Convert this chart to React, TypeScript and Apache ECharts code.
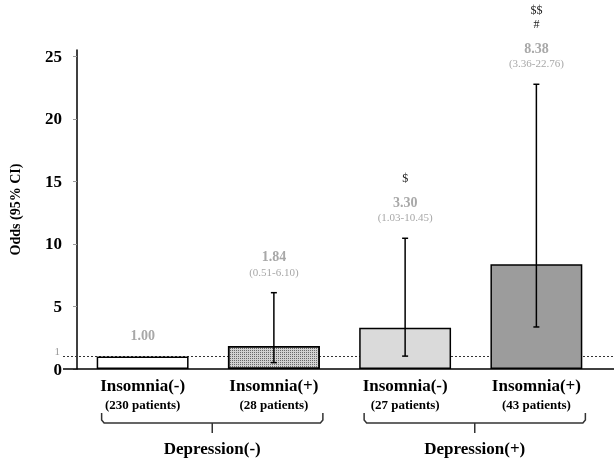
import React, { useEffect, useRef } from 'react';
import * as echarts from 'echarts';

const categories = ['Insomnia(-)', 'Insomnia(+)', 'Insomnia(-)', 'Insomnia(+)'];
const patientCounts = ['(230 patients)', '(28 patients)', '(27 patients)', '(43 patients)'];
const groupLabels = ['Depression(-)', 'Depression(+)'];
const groupMembers = [[0, 1], [2, 3]];
const odds = [1.0, 1.84, 3.3, 8.38];
const ciLow: (number | null)[] = [null, 0.51, 1.03, 3.36];
const ciHigh: (number | null)[] = [null, 6.1, 10.45, 22.76];
const markers: string[][] = [[], [], ['$'], ['$$', '#']];
const yLabelValues = [0, 5, 10, 15, 20, 25];
const yTickValues = [0, 5, 10, 15, 20, 25];
const referenceOdds = 1;
const yMax = 25.5;

const FONT = "'Liberation Serif', 'Times New Roman', serif";
const barFills = ['#ffffff', '#d2d2d2', '#dadada', '#9c9c9c'];
const GRAY = '#a8a8a8';

export default function App() {
  const ref = useRef<HTMLDivElement>(null);
  useEffect(() => {
    const chart = echarts.init(ref.current!, null, { renderer: 'svg' });
    const decal = {
      symbol: 'rect',
      symbolSize: 1,
      color: '#6a6a6a',
      dashArrayX: [1, 1],
      dashArrayY: [1, 1],
      rotation: 0,
    };
    const option: any = {
      animation: false,
      grid: { left: 75, right: 12, top: 50, bottom: 93 },
      xAxis: {
        type: 'category',
        data: categories,
        axisLine: { show: false },
        axisTick: { show: false },
        axisLabel: {
          interval: 0,
          margin: 6,
          formatter: (v: string, i: number) => `{a|${v}}\n{b|${patientCounts[i]}}`,
          rich: {
            a: { fontFamily: FONT, fontWeight: 'bold', fontSize: 17, color: '#000', lineHeight: 21 },
            b: { fontFamily: FONT, fontWeight: 'bold', fontSize: 13, color: '#000', lineHeight: 17 },
          },
        },
      },
      yAxis: [
        {
          type: 'value',
          min: 0,
          max: yMax,
          interval: 5,
          name: 'Odds (95% CI)',
          nameLocation: 'middle',
          nameGap: 55,
          nameTextStyle: { fontFamily: FONT, fontWeight: 'bold', fontSize: 14, color: '#000' },
          axisLine: { show: true, lineStyle: { color: '#000', width: 1.5 } },
          axisTick: { show: true, length: 4, lineStyle: { color: '#999' }, customValues: yTickValues },
          axisLabel: {
            customValues: yLabelValues,
            margin: 15,
            showMinLabel: true,
            hideOverlap: false,
            fontFamily: FONT,
            fontWeight: 'bold',
            fontSize: 17,
            color: '#000',
          },
          splitLine: { show: false },
        },
        {
          type: 'value',
          position: 'left',
          min: 0,
          max: yMax,
          interval: 1,
          axisLine: { show: false },
          axisTick: { show: false },
          splitLine: { show: false },
          axisLabel: {
            customValues: [referenceOdds],
            margin: 17,
            fontFamily: FONT,
            fontSize: 11,
            lineHeight: 11,
            verticalAlign: 'bottom',
            color: '#999',
          },
        },
      ],
      series: [
        {
          type: 'bar',
          barWidth: '70%',
          z: 2,
          data: odds.map((v, i) => ({
            value: v,
            itemStyle: {
              color: barFills[i],
              borderColor: '#000',
              borderWidth: 1.5,
              decal: i === 1 ? decal : undefined,
            },
          })),
        },
        {
          type: 'custom',
          z: 5,
          clip: false,
          data: odds.map((v, i) => [i, v]),
          encode: { x: 0, y: 1 },
          renderItem: (params: any, api: any) => {
            const i = params.dataIndex;
            const top = api.coord([i, odds[i]]);
            const x = top[0];
            let anchor = top[1];
            const children: any[] = [];
            const hi = ciHigh[i];
            const lo = ciLow[i];
            if (hi != null && lo != null) {
              const yH = api.coord([i, hi])[1];
              const yL = api.coord([i, lo])[1];
              const ls = { stroke: '#000', lineWidth: 1.5 };
              children.push({ type: 'line', shape: { x1: x, y1: yH, x2: x, y2: yL }, style: ls });
              children.push({ type: 'line', shape: { x1: x - 3, y1: yH, x2: x + 3, y2: yH }, style: ls });
              children.push({ type: 'line', shape: { x1: x - 3, y1: yL, x2: x + 3, y2: yL }, style: ls });
              anchor = yH;
            }
            let y = anchor - 21;
            if (hi != null && lo != null) {
              children.push({
                type: 'text', x, y,
                style: { text: `(${lo.toFixed(2)}-${hi.toFixed(2)})`, fill: GRAY, font: `11px ${FONT}`, align: 'center', verticalAlign: 'middle' },
              });
              y -= 15;
            }
            children.push({
              type: 'text', x, y,
              style: { text: odds[i].toFixed(2), fill: GRAY, font: `bold 14px ${FONT}`, align: 'center', verticalAlign: 'middle' },
            });
            y -= 24;
            const ms = markers[i];
            for (let k = ms.length - 1; k >= 0; k--) {
              children.push({
                type: 'text', x, y,
                style: { text: ms[k], fill: '#222', font: `12px ${FONT}`, align: 'center', verticalAlign: 'middle' },
              });
              y -= 14;
            }
            return { type: 'group', children };
          },
        },
      ],
    };
    chart.setOption(option);

    const y0 = chart.convertToPixel({ yAxisIndex: 0 }, 0) as number;
    const y1 = chart.convertToPixel({ yAxisIndex: 0 }, referenceOdds) as number;
    const graphics: any[] = [
      { type: 'line', z: 1, shape: { x1: 63, y1: y1, x2: 614, y2: y1 }, style: { stroke: '#333', lineWidth: 1.2, lineDash: [2, 2] } },
      { type: 'line', z: 10, shape: { x1: 63, y1: y0, x2: 614, y2: y0 }, style: { stroke: '#000', lineWidth: 1.5 } },
    ];
    groupMembers.forEach((m, g) => {
      const c0 = chart.convertToPixel({ xAxisIndex: 0 }, m[0]) as number;
      const c1 = chart.convertToPixel({ xAxisIndex: 0 }, m[1]) as number;
      const L = c0 - 41;
      const R = c1 + 49;
      const mid = (L + R) / 2;
      const st = { stroke: '#333', lineWidth: 1.5, fill: null };
      graphics.push({
        type: 'polyline', z: 10,
        shape: { points: [[L, 413], [L, 420], [L + 2.5, 423], [R - 2.5, 423], [R, 420], [R, 413]] },
        style: st,
      });
      graphics.push({ type: 'line', z: 10, shape: { x1: mid, y1: 423, x2: mid, y2: 433 }, style: st });
      graphics.push({
        type: 'text', z: 10, x: mid, y: 448,
        style: { text: groupLabels[g], fill: '#000', font: `bold 17px ${FONT}`, align: 'center', verticalAlign: 'middle' },
      });
    });
    chart.setOption({ graphic: graphics });

    return () => chart.dispose();
  }, []);
  return <div ref={ref} style={{ position: 'fixed', left: 0, top: 0, width: 614, height: 462 }} />;
}
